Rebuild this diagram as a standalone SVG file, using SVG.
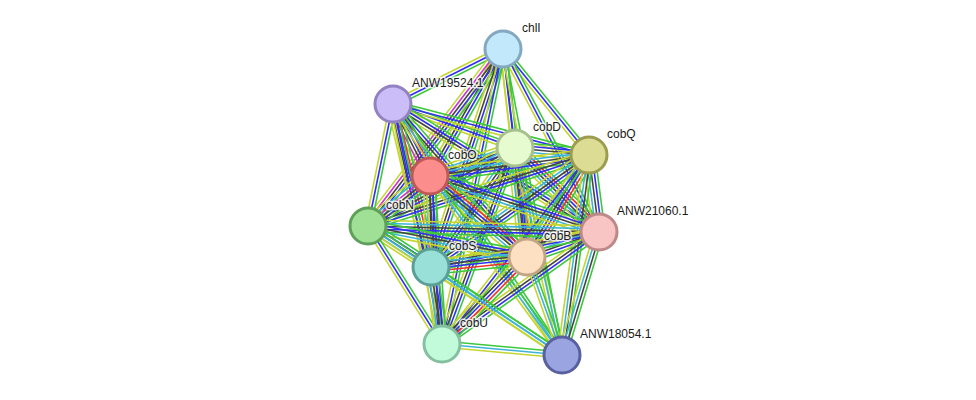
<svg xmlns="http://www.w3.org/2000/svg" xmlns:xlink="http://www.w3.org/1999/xlink" width="976" height="400" viewBox="0 0 976 400">
<style>
line{vector-effect:non-scaling-stroke;stroke-width:1.6;fill:none}
.g{stroke:#3cc83c}.r{stroke:#f03030}.b{stroke:#3030f0}.k{stroke:#444444}.m{stroke:#d030d0}.c{stroke:#3cb4d8}.y{stroke:#c4d530}
.n circle{stroke-width:3}
.n text{font-family:"Liberation Sans",Arial,sans-serif;font-size:12px;fill:#1a1a1a;stroke:#ffffff;stroke-width:3;stroke-opacity:0.8;paint-order:stroke;stroke-linejoin:round}
</style>
<defs>
<g id="b-gy"><line class="g" x2="1" y1="-1.5" y2="-1.5"/><line class="y" x2="1" y1="1.5" y2="1.5"/></g>
<g id="b-gby"><line class="g" x2="1" y1="-3" y2="-3"/><line class="b" x2="1"/><line class="y" x2="1" y1="3" y2="3"/></g>
<g id="b-gcy"><line class="g" x2="1" y1="-3" y2="-3"/><line class="c" x2="1"/><line class="y" x2="1" y1="3" y2="3"/></g>
<g id="b-gbky"><line class="g" x2="1" y1="-4.5" y2="-4.5"/><line class="b" x2="1" y1="-1.5" y2="-1.5"/><line class="k" x2="1" y1="1.5" y2="1.5"/><line class="y" x2="1" y1="4.5" y2="4.5"/></g>
<g id="b-gkcy"><line class="g" x2="1" y1="-4.5" y2="-4.5"/><line class="k" x2="1" y1="-1.5" y2="-1.5"/><line class="c" x2="1" y1="1.5" y2="1.5"/><line class="y" x2="1" y1="4.5" y2="4.5"/></g>
<g id="b-gbkmy"><line class="g" x2="1" y1="-6" y2="-6"/><line class="b" x2="1" y1="-3" y2="-3"/><line class="k" x2="1"/><line class="m" x2="1" y1="3" y2="3"/><line class="y" x2="1" y1="6" y2="6"/></g>
<g id="b-grbky"><line class="g" x2="1" y1="-6" y2="-6"/><line class="r" x2="1" y1="-3" y2="-3"/><line class="b" x2="1"/><line class="k" x2="1" y1="3" y2="3"/><line class="y" x2="1" y1="6" y2="6"/></g>
<g id="b-gbkcy"><line class="g" x2="1" y1="-6" y2="-6"/><line class="b" x2="1" y1="-3" y2="-3"/><line class="k" x2="1"/><line class="c" x2="1" y1="3" y2="3"/><line class="y" x2="1" y1="6" y2="6"/></g>
<g id="b-grbkmy"><line class="g" x2="1" y1="-7.5" y2="-7.5"/><line class="r" x2="1" y1="-4.5" y2="-4.5"/><line class="b" x2="1" y1="-1.5" y2="-1.5"/><line class="k" x2="1" y1="1.5" y2="1.5"/><line class="m" x2="1" y1="4.5" y2="4.5"/><line class="y" x2="1" y1="7.5" y2="7.5"/></g>
<g id="b-grbkcy"><line class="g" x2="1" y1="-7.5" y2="-7.5"/><line class="r" x2="1" y1="-4.5" y2="-4.5"/><line class="b" x2="1" y1="-1.5" y2="-1.5"/><line class="k" x2="1" y1="1.5" y2="1.5"/><line class="c" x2="1" y1="4.5" y2="4.5"/><line class="y" x2="1" y1="7.5" y2="7.5"/></g>
<g id="b-gbkmcy"><line class="g" x2="1" y1="-7.5" y2="-7.5"/><line class="b" x2="1" y1="-4.5" y2="-4.5"/><line class="k" x2="1" y1="-1.5" y2="-1.5"/><line class="m" x2="1" y1="1.5" y2="1.5"/><line class="c" x2="1" y1="4.5" y2="4.5"/><line class="y" x2="1" y1="7.5" y2="7.5"/></g>
</defs>
<rect width="976" height="400" fill="#ffffff"/>
<g id="edges">
<use xlink:href="#b-gby" transform="translate(503 49) rotate(153.43) scale(122.98 1)"/>
<use xlink:href="#b-gby" transform="translate(503 49) rotate(83.09) scale(99.72 1)"/>
<use xlink:href="#b-gby" transform="translate(503 49) rotate(50.94) scale(136.5 1)"/>
<use xlink:href="#b-gbky" transform="translate(503 49) rotate(119.89) scale(146.49 1)"/>
<use xlink:href="#b-gby" transform="translate(503 49) rotate(62.32) scale(206.65 1)"/>
<use xlink:href="#b-gbkmy" transform="translate(503 49) rotate(127.33) scale(222.61 1)"/>
<use xlink:href="#b-gby" transform="translate(503 49) rotate(83.42) scale(209.38 1)"/>
<use xlink:href="#b-gbky" transform="translate(503 49) rotate(108.28) scale(229.58 1)"/>
<use xlink:href="#b-gby" transform="translate(503 49) rotate(101.68) scale(301.24 1)"/>
<use xlink:href="#b-gy" transform="translate(503 49) rotate(79.09) scale(311.64 1)"/>
<use xlink:href="#b-gby" transform="translate(393 104) rotate(19.83) scale(129.69 1)"/>
<use xlink:href="#b-gby" transform="translate(393 104) rotate(14.59) scale(202.53 1)"/>
<use xlink:href="#b-grbkmy" transform="translate(393 104) rotate(62.8) scale(80.95 1)"/>
<use xlink:href="#b-gbky" transform="translate(393 104) rotate(31.86) scale(242.53 1)"/>
<use xlink:href="#b-gby" transform="translate(393 104) rotate(101.58) scale(124.54 1)"/>
<use xlink:href="#b-gbky" transform="translate(393 104) rotate(48.79) scale(203.38 1)"/>
<use xlink:href="#b-grbky" transform="translate(393 104) rotate(76.88) scale(167.37 1)"/>
<use xlink:href="#b-gby" transform="translate(393 104) rotate(78.46) scale(244.95 1)"/>
<use xlink:href="#b-gcy" transform="translate(393 104) rotate(56.05) scale(302.59 1)"/>
<use xlink:href="#b-gbkcy" transform="translate(515 148) rotate(5.4) scale(74.33 1)"/>
<use xlink:href="#b-gbkcy" transform="translate(515 148) rotate(161.77) scale(89.49 1)"/>
<use xlink:href="#b-grbkcy" transform="translate(515 148) rotate(45) scale(118.79 1)"/>
<use xlink:href="#b-gbkcy" transform="translate(515 148) rotate(152.05) scale(166.41 1)"/>
<use xlink:href="#b-grbkcy" transform="translate(515 148) rotate(83.72) scale(109.66 1)"/>
<use xlink:href="#b-gbkcy" transform="translate(515 148) rotate(125.22) scale(145.66 1)"/>
<use xlink:href="#b-gbky" transform="translate(515 148) rotate(110.43) scale(209.15 1)"/>
<use xlink:href="#b-gcy" transform="translate(515 148) rotate(77.21) scale(212.27 1)"/>
<use xlink:href="#b-gbkcy" transform="translate(589 155) rotate(172.48) scale(160.38 1)"/>
<use xlink:href="#b-gbkcy" transform="translate(589 155) rotate(82.6) scale(77.65 1)"/>
<use xlink:href="#b-gbky" transform="translate(589 155) rotate(162.19) scale(232.12 1)"/>
<use xlink:href="#b-grbkcy" transform="translate(589 155) rotate(121.29) scale(119.37 1)"/>
<use xlink:href="#b-gbkcy" transform="translate(589 155) rotate(144.67) scale(193.67 1)"/>
<use xlink:href="#b-gby" transform="translate(589 155) rotate(127.87) scale(239.44 1)"/>
<use xlink:href="#b-gkcy" transform="translate(589 155) rotate(97.69) scale(201.81 1)"/>
<use xlink:href="#b-gbkcy" transform="translate(430 176) rotate(18.33) scale(178.04 1)"/>
<use xlink:href="#b-gbkmcy" transform="translate(430 176) rotate(141.12) scale(79.65 1)"/>
<use xlink:href="#b-grbkcy" transform="translate(430 176) rotate(39.87) scale(126.37 1)"/>
<use xlink:href="#b-gbkcy" transform="translate(430 176) rotate(89.37) scale(91.01 1)"/>
<use xlink:href="#b-gbky" transform="translate(430 176) rotate(85.91) scale(168.43 1)"/>
<use xlink:href="#b-gcy" transform="translate(430 176) rotate(53.59) scale(222.41 1)"/>
<use xlink:href="#b-gbkcy" transform="translate(599 232) rotate(181.49) scale(231.08 1)"/>
<use xlink:href="#b-gbkcy" transform="translate(599 232) rotate(160.85) scale(76.22 1)"/>
<use xlink:href="#b-gbky" transform="translate(599 232) rotate(168.23) scale(171.61 1)"/>
<use xlink:href="#b-gbky" transform="translate(599 232) rotate(144.5) scale(192.85 1)"/>
<use xlink:href="#b-gkcy" transform="translate(599 232) rotate(106.74) scale(128.44 1)"/>
<use xlink:href="#b-gbkcy" transform="translate(368 226) rotate(11.03) scale(161.99 1)"/>
<use xlink:href="#b-gbkcy" transform="translate(368 226) rotate(33.06) scale(75.17 1)"/>
<use xlink:href="#b-gby" transform="translate(368 226) rotate(57.9) scale(139.28 1)"/>
<use xlink:href="#b-gcy" transform="translate(368 226) rotate(33.62) scale(232.98 1)"/>
<use xlink:href="#b-grbkcy" transform="translate(527 257) rotate(174.05) scale(96.52 1)"/>
<use xlink:href="#b-grbky" transform="translate(527 257) rotate(134.33) scale(121.63 1)"/>
<use xlink:href="#b-gcy" transform="translate(527 257) rotate(70.35) scale(104.06 1)"/>
<use xlink:href="#b-gbkcy" transform="translate(431 267) rotate(81.87) scale(77.78 1)"/>
<use xlink:href="#b-gcy" transform="translate(431 267) rotate(33.89) scale(157.81 1)"/>
<use xlink:href="#b-gcy" transform="translate(442 344) rotate(5.24) scale(120.5 1)"/>
</g>
<g id="node-chlI" class="n"><circle cx="503" cy="49" r="18" fill="#c2e8fb" stroke="#84a8c0"/><text x="522" y="32">chlI</text></g>
<g id="node-ANW19524.1" class="n"><circle cx="393" cy="104" r="18" fill="#cbbdf7" stroke="#9282c2"/><text x="412" y="87">ANW19524.1</text></g>
<g id="node-cobD" class="n"><circle cx="515" cy="148" r="18" fill="#e6fbcf" stroke="#a6c08e"/><text x="533" y="131">cobD</text></g>
<g id="node-cobQ" class="n"><circle cx="589" cy="155" r="18" fill="#dcdc94" stroke="#9c9c50"/><text x="607" y="138">cobQ</text></g>
<g id="node-cobO" class="n"><circle cx="430" cy="176" r="18" fill="#fb8d8d" stroke="#c05858"/><text x="448" y="159">cobO</text></g>
<g id="node-ANW21060.1" class="n"><circle cx="599" cy="232" r="18" fill="#f8c4c4" stroke="#bc8888"/><text x="617" y="215">ANW21060.1</text></g>
<g id="node-cobN" class="n"><circle cx="368" cy="226" r="18" fill="#a0e096" stroke="#5ea05a"/><text x="386" y="209">cobN</text></g>
<g id="node-cobB" class="n"><circle cx="527" cy="257" r="18" fill="#fde0c2" stroke="#c0a484"/><text x="544" y="240">cobB</text></g>
<g id="node-cobS" class="n"><circle cx="431" cy="267" r="18" fill="#98e0d8" stroke="#5aa098"/><text x="449" y="250">cobS</text></g>
<g id="node-cobU" class="n"><circle cx="442" cy="344" r="18" fill="#c2fbda" stroke="#84c0a0"/><text x="460" y="327">cobU</text></g>
<g id="node-ANW18054.1" class="n"><circle cx="562" cy="355" r="18" fill="#9aa4e0" stroke="#5860a0"/><text x="580" y="338">ANW18054.1</text></g>
</svg>
